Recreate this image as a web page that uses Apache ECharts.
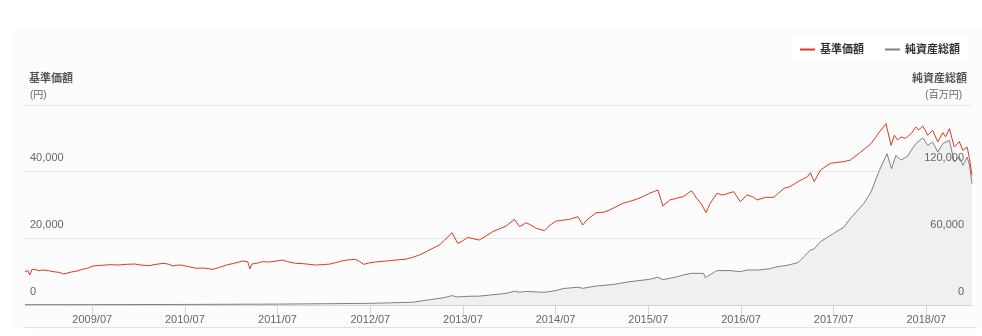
<!DOCTYPE html>
<html>
<head>
<meta charset="utf-8">
<script src="https://cdn.jsdelivr.net/npm/echarts@6/dist/echarts.min.js"></script>
<style>
html,body{margin:0;padding:0;background:#ffffff;}
#chart{width:982px;height:336px;}
</style>
</head>
<body>
<div id="chart"></div>
<script>
// ---- data ----
const navDates = [
'2008-10-09','2008-10-20','2008-10-28','2008-11-05','2008-11-17','2008-12-01','2008-12-19','2009-01-10','2009-01-28','2009-02-20',
'2009-03-10','2009-03-17','2009-04-10','2009-05-02','2009-05-25','2009-06-15','2009-07-04','2009-08-05','2009-09-09','2009-10-10',
'2009-11-14','2009-12-15','2010-01-17','2010-02-10','2010-03-10','2010-04-06','2010-04-25','2010-05-16','2010-06-05','2010-06-24',
'2010-07-15','2010-08-17','2010-09-10','2010-10-20','2010-11-15','2010-12-12','2011-01-10','2011-02-14','2011-03-06','2011-03-14',
'2011-03-22','2011-04-15','2011-05-01','2011-05-28','2011-06-20','2011-07-19','2011-08-10','2011-09-11','2011-10-10','2011-11-28',
'2011-12-25','2012-01-25','2012-02-15','2012-03-10','2012-04-01','2012-05-04','2012-05-20','2012-06-05','2012-06-25','2012-07-20',
'2012-08-20','2012-09-15','2012-10-10','2012-11-15','2012-12-15','2013-01-10','2013-02-06','2013-03-01','2013-03-30','2013-04-20',
'2013-05-19','2013-06-10','2013-06-25','2013-07-19','2013-08-15','2013-09-03','2013-09-25','2013-10-26','2013-11-20','2013-12-18',
'2014-01-20','2014-02-09','2014-03-07','2014-03-25','2014-04-16','2014-05-19','2014-06-10','2014-07-03','2014-07-25','2014-08-25',
'2014-09-27','2014-10-16','2014-11-01','2014-12-08','2015-01-05','2015-01-30','2015-02-25','2015-03-23','2015-04-15','2015-05-15',
'2015-06-10','2015-07-06','2015-08-08','2015-08-28','2015-09-24','2015-10-20','2015-11-16','2015-12-19','2016-01-08','2016-01-25',
'2016-02-14','2016-03-01','2016-03-28','2016-04-20','2016-05-10','2016-06-02','2016-06-28','2016-07-25','2016-08-15','2016-09-02',
'2016-10-05','2016-11-07','2016-11-25','2016-12-17','2017-01-10','2017-02-10','2017-03-20','2017-03-31','2017-04-15','2017-05-10',
'2017-06-18','2017-07-15','2017-08-10','2017-09-05','2017-10-16','2017-11-25','2017-12-28','2018-01-23','2018-02-12','2018-02-25',
'2018-03-10','2018-03-23','2018-04-10','2018-05-02','2018-05-21','2018-06-01','2018-06-17','2018-07-07','2018-07-26','2018-08-15',
'2018-09-04','2018-09-15','2018-09-30','2018-10-19','2018-11-08','2018-11-22','2018-12-09','2018-12-18','2018-12-28'
];
const navValues = [
10000,10300,9000,10600,10700,10300,10500,10300,10000,9800,
9300,9500,9900,10200,10700,11100,11700,11900,12100,12000,
12200,12300,11900,11800,12200,12500,12300,11700,12000,11900,
11500,11000,11100,10700,11300,12000,12500,13200,13000,10800,
12300,12600,13000,12900,13100,13500,13000,12500,12400,12000,
12100,12300,12700,13200,13500,13700,13000,12200,12600,12900,
13100,13300,13500,13700,14300,15000,16000,16900,18000,19500,
21700,18500,19000,20300,19800,19500,20500,22000,22800,23700,
25700,23500,24700,24000,23000,22300,24000,25200,25400,25700,
26500,24000,25500,27700,27800,28500,29500,30500,31000,31700,
32500,33500,34500,29700,31500,32000,32500,34300,32000,30500,
27700,30500,33500,33000,33500,34000,31000,33000,32500,31500,
32300,32300,33500,35000,35500,37000,38500,39700,37000,40500,
42500,42800,43000,43500,45900,48400,51900,54400,47900,50900,
49500,50400,50000,51400,53400,52500,53700,50900,52400,48900,
51700,50500,52900,47400,49000,46400,47400,43900,38900
];
const aumDates = [
'2008-10-09','2009-07-01','2010-07-01','2011-07-01','2012-01-25','2012-07-01','2012-12-15','2013-02-20','2013-04-15','2013-05-19',
'2013-06-10','2013-07-19','2013-09-03','2013-10-26','2013-12-18','2014-01-20','2014-02-09','2014-03-07','2014-05-19','2014-07-03',
'2014-07-31','2014-09-27','2014-10-16','2014-12-08','2015-02-15','2015-04-20','2015-07-06','2015-08-08','2015-08-28','2015-10-15',
'2015-11-16','2015-12-19','2016-02-04','2016-02-11','2016-03-28','2016-05-15','2016-06-28','2016-07-25','2016-09-02','2016-10-20',
'2016-11-21','2016-12-25','2017-02-10','2017-03-06','2017-03-31','2017-04-15','2017-05-10','2017-07-01','2017-08-10','2017-09-05',
'2017-10-28','2017-11-25','2017-12-28','2018-01-27','2018-02-14','2018-03-03','2018-03-23','2018-04-19','2018-05-02','2018-05-21',
'2018-06-17','2018-07-07','2018-07-26','2018-08-15','2018-09-04','2018-09-30','2018-10-19','2018-11-08','2018-11-22','2018-12-09',
'2018-12-18','2018-12-28'
];
const aumValues = [
300,350,500,800,1200,1500,2500,4800,6500,8400,
7300,7800,8000,9200,10500,12400,11500,12200,11400,13000,
14800,16000,15000,17100,18500,21000,23100,25000,22800,25000,
27000,28500,28500,24600,30900,31000,30000,31500,31500,32500,
34500,35500,38100,43500,49500,50500,57000,64500,70000,78000,
91500,101700,121200,136200,122700,134700,130500,134000,139200,145200,
150300,143700,146700,137700,145200,148200,128700,133200,125700,133200,
126000,109200
];
const xTickLabels = ['2009/07','2010/07','2011/07','2012/07','2013/07','2014/07','2015/07','2016/07','2017/07','2018/07'];
const leftTicks = [0, 20000, 40000, 60000];
const rightTicks = [0, 60000, 120000, 180000];

// ---- chart ----
const FONT = '"Liberation Sans", "Noto Sans CJK JP", sans-serif';
const toTs = s => { const p = s.split(/[-/]/).map(Number); return Date.UTC(p[0], p[1]-1, p[2] || 1); };
const tickTs = xTickLabels.map(toTs);
const fmtNum = v => Number(v).toLocaleString('en-US');
const fmtDate = v => { const d = new Date(v); return d.getUTCFullYear() + '/' + String(d.getUTCMonth() + 1).padStart(2, '0'); };

const chart = echarts.init(document.getElementById('chart'), null, {renderer: 'canvas'});
chart.setOption({
  animation: false,
  backgroundColor: 'transparent',
  textStyle: {fontFamily: FONT},
  graphic: [
    {type: 'rect', z: -100, silent: true, shape: {x: 12, y: 30, width: 970, height: 298}, style: {fill: '#fcfcfc'}},
    {type: 'line', z: -90, silent: true, shape: {x1: 25, y1: 327.5, x2: 975, y2: 327.5}, style: {stroke: '#f3d9d9', lineWidth: 1}}
  ],
  legend: {
    right: 14, top: 37,
    backgroundColor: '#ffffff',
    padding: [7, 8, 7, 8],
    itemGap: 21,
    itemWidth: 15, itemHeight: 2,
    icon: 'rect',
    textStyle: {fontFamily: FONT, fontSize: 11, fontWeight: 'bold', color: '#333333'},
    data: ['基準価額', '純資産総額']
  },
  grid: {left: 25, right: 10, top: 105, bottom: 31, containLabel: false},
  xAxis: {
    type: 'value',
    min: toTs(navDates[0]),
    max: toTs(navDates[navDates.length - 1]),
    axisLine: {show: true, lineStyle: {color: '#ccd6eb', width: 1}},
    axisTick: {show: true, length: 10, lineStyle: {color: '#ccd6eb'}, customValues: tickTs},
    axisLabel: {
      customValues: tickTs,
      margin: 9,
      color: '#666666', fontSize: 11, fontFamily: FONT,
      formatter: fmtDate
    },
    splitLine: {show: false}
  },
  yAxis: [
    {
      type: 'value', position: 'left',
      min: leftTicks[0], max: leftTicks[leftTicks.length - 1], interval: leftTicks[1] - leftTicks[0],
      name: '{a|基準価額}\n{b|(円)}',
      nameLocation: 'end', nameGap: 2,
      nameTextStyle: {
        align: 'left', verticalAlign: 'bottom', padding: [0, 0, 0, 4],
        rich: {
          a: {fontFamily: FONT, fontSize: 11, fontWeight: 'bold', color: '#555555', lineHeight: 16},
          b: {fontFamily: FONT, fontSize: 10, color: '#666666', lineHeight: 16, padding: [0, 0, 0, 1]}
        }
      },
      axisLine: {show: false}, axisTick: {show: false},
      splitLine: {show: true, lineStyle: {color: '#e6e6e6', width: 1}},
      axisLabel: {
        inside: true, margin: 5, showMaxLabel: false,
        verticalAlign: 'bottom', padding: [0, 0, 8, 0],
        color: '#666666', fontSize: 11, fontFamily: FONT,
        formatter: fmtNum
      }
    },
    {
      type: 'value', position: 'right', z: 10,
      min: rightTicks[0], max: rightTicks[rightTicks.length - 1], interval: rightTicks[1] - rightTicks[0],
      name: '{a|純資産総額}\n{b|(百万円)}',
      nameLocation: 'end', nameGap: 2,
      nameTextStyle: {
        align: 'right', verticalAlign: 'bottom', padding: [0, 5, 0, 0],
        rich: {
          a: {fontFamily: FONT, fontSize: 11, fontWeight: 'bold', color: '#555555', lineHeight: 16, align: 'right'},
          b: {fontFamily: FONT, fontSize: 10, color: '#666666', lineHeight: 16, align: 'right', padding: [0, 5, 0, 0]}
        }
      },
      axisLine: {show: false}, axisTick: {show: false},
      splitLine: {show: false},
      axisLabel: {
        inside: true, margin: 8, showMaxLabel: false,
        verticalAlign: 'bottom', padding: [0, 0, 8, 0],
        color: '#666666', fontSize: 11, fontFamily: FONT,
        formatter: fmtNum
      }
    }
  ],
  series: [
    {
      name: '純資産総額', type: 'line', yAxisIndex: 1,
      showSymbol: false, symbol: 'none',
      data: aumDates.map((d, i) => [toTs(d), aumValues[i]]),
      lineStyle: {color: '#808080', width: 1},
      itemStyle: {color: '#808080'},
      areaStyle: {color: '#eff0f0', opacity: 1},
      z: 2
    },
    {
      name: '基準価額', type: 'line', yAxisIndex: 0,
      showSymbol: false, symbol: 'none',
      data: navDates.map((d, i) => [toTs(d), navValues[i]]),
      lineStyle: {color: '#e2381f', width: 1},
      itemStyle: {color: '#e2381f'},
      z: 3
    }
  ]
});
</script>
</body>
</html>
